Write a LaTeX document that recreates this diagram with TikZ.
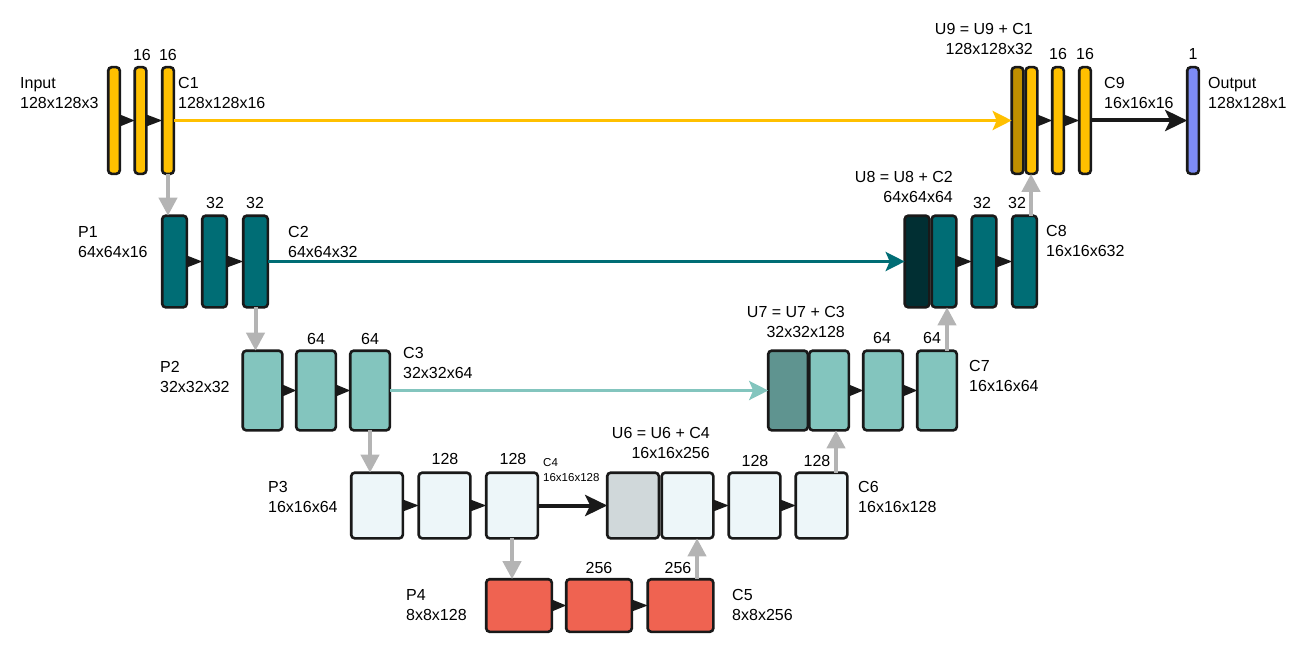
\documentclass[tikz,border=0pt]{standalone}
\usepackage{fontspec}
\setmainfont{Liberation Sans}
\usetikzlibrary{arrows.meta}
\definecolor{cyel}{HTML}{FFC000}
\definecolor{cgold}{HTML}{BF8F00}
\definecolor{cteal}{HTML}{006D75}
\definecolor{cdteal}{HTML}{012F33}
\definecolor{clteal}{HTML}{83C5BE}
\definecolor{cmteal}{HTML}{5F9490}
\definecolor{cpale}{HTML}{EDF6F9}
\definecolor{cgrey}{HTML}{D0D8DA}
\definecolor{cred}{HTML}{EF6351}
\definecolor{cblue}{HTML}{7D8CF6}
\definecolor{carr}{HTML}{B4B4B4}
\begin{document}
\begin{tikzpicture}[x=1pt,y=-1pt,
  blk/.style={draw=black!90, line width=2.6pt, rounded corners=3.5pt, inner sep=0pt, outer sep=0pt},
  r1/.style={blk, minimum width=11.6pt, minimum height=106.6pt},
  r2/.style={blk, minimum width=24.6pt, minimum height=91.6pt},
  r3/.style={blk, minimum width=39.6pt, minimum height=79.6pt},
  r4/.style={blk, minimum width=51.6pt, minimum height=65.6pt},
  r5/.style={blk, minimum width=65.6pt, minimum height=52.6pt},
  lbl/.style={inner sep=0pt, font=\fontsize{16}{20}\selectfont},
  lbll/.style={lbl, anchor=west, align=left},
  lblr/.style={lbl, anchor=east, align=right},
  smll/.style={inner sep=0pt, anchor=west, align=left, font=\fontsize{11.5}{15}\selectfont},
  grayarr/.style={draw=carr, line width=4pt, -{Triangle[length=18pt,width=18pt]}, carr},
  skip/.style={line width=3.4pt, -{Stealth[length=19pt,width=19pt,inset=4pt]}},
  blackarr/.style={draw=black!90, line width=4pt, -{Stealth[length=22pt,width=21pt,inset=5pt]}},
]
\useasboundingbox (0,0) rectangle (1303,650);
\newcommand\tri[2]{\fill[black!90] ([yshift=-6pt]#1.east) -- ([yshift=6pt]#1.east) -- (#2.west) -- cycle;}

% ---------- Row 1 ----------
\node[r1, fill=cyel] (r1a) at (114,120.5) {};
\node[r1, fill=cyel] (r1b) at (140.5,120.5) {};
\node[r1, fill=cyel] (r1c) at (168,120.5) {};
\node[r1, fill=cgold] (u9a) at (1017.5,120.5) {};
\node[r1, fill=cyel] (u9b) at (1031.5,120.5) {};
\node[r1, fill=cyel] (r1d) at (1058,120.5) {};
\node[r1, fill=cyel] (r1e) at (1085,120.5) {};
\node[r1, fill=cblue] (out) at (1193,120.5) {};

% ---------- Row 2 ----------
\node[r2, fill=cteal] (r2a) at (174.5,261.5) {};
\node[r2, fill=cteal] (r2b) at (214.5,261.5) {};
\node[r2, fill=cteal] (r2c) at (255.5,261.5) {};
\node[r2, fill=cdteal] (u8a) at (917,261.5) {};
\node[r2, fill=cteal] (u8b) at (944,261.5) {};
\node[r2, fill=cteal] (r2d) at (984,261.5) {};
\node[r2, fill=cteal] (r2e) at (1024.5,261.5) {};

% ---------- Row 3 ----------
\node[r3, fill=clteal] (r3a) at (262.5,390.5) {};
\node[r3, fill=clteal] (r3b) at (316,390.5) {};
\node[r3, fill=clteal] (r3c) at (370,390.5) {};
\node[r3, fill=cmteal] (u7a) at (788,390.5) {};
\node[r3, fill=clteal] (u7b) at (829,390.5) {};
\node[r3, fill=clteal] (r3d) at (883,390.5) {};
\node[r3, fill=clteal] (r3e) at (937,390.5) {};

% ---------- Row 4 ----------
\node[r4, fill=cpale] (r4a) at (377,505.5) {};
\node[r4, fill=cpale] (r4b) at (444.5,505.5) {};
\node[r4, fill=cpale] (r4c) at (512,505.5) {};
\node[r4, fill=cgrey] (u6a) at (633,505.5) {};
\node[r4, fill=cpale] (u6b) at (687.5,505.5) {};
\node[r4, fill=cpale] (r4d) at (754.5,505.5) {};
\node[r4, fill=cpale] (r4e) at (821.5,505.5) {};

% ---------- Row 5 ----------
\node[r5, fill=cred] (r5a) at (519,605.5) {};
\node[r5, fill=cred] (r5b) at (599,605.5) {};
\node[r5, fill=cred] (r5c) at (680.5,605.5) {};

% ---------- small triangles ----------
\tri{r1a}{r1b} \tri{r1b}{r1c} \tri{u9b}{r1d} \tri{r1d}{r1e}
\tri{r2a}{r2b} \tri{r2b}{r2c} \tri{u8b}{r2d} \tri{r2d}{r2e}
\tri{r3a}{r3b} \tri{r3b}{r3c} \tri{u7b}{r3d} \tri{r3d}{r3e}
\tri{r4a}{r4b} \tri{r4b}{r4c} \tri{u6b}{r4d} \tri{r4d}{r4e}
\tri{r5a}{r5b} \tri{r5b}{r5c}

% ---------- skip connections ----------
\draw[skip, draw=cyel, cyel] (r1c.east) -- (u9a.west);
\draw[skip, draw=cteal, cteal] (r2c.east) -- (u8a.west);
\draw[skip, draw=clteal, clteal] (r3c.east) -- (u7a.west);
\draw[blackarr] (r4c.east) -- (u6a.west);
\draw[blackarr] (r1e.east) -- (out.west);

% ---------- pooling / upsampling ----------
\draw[grayarr] (r1c.south) -- (r1c.south |- r2a.north);
\draw[grayarr] (r2c.south) -- (r2c.south |- r3a.north);
\draw[grayarr] (r3c.south) -- (r3c.south |- r4a.north);
\draw[grayarr] (r4c.south) -- (r4c.south |- r5a.north);
\draw[grayarr] ([xshift=16.5pt]r5c.north) -- ([xshift=16.5pt]r5c.north |- u6b.south);
\draw[grayarr] ([xshift=14.5pt]r4e.north) -- ([xshift=14.5pt]r4e.north |- u7b.south);
\draw[grayarr] ([xshift=10pt]r3e.north) -- ([xshift=10pt]r3e.north |- u8b.south);
\draw[grayarr] ([xshift=6.5pt]r2e.north) -- ([xshift=6.5pt]r2e.north |- u9b.south);

% ---------- labels ----------
\node[lbll] (tin) at (20,93) {Input\\128x128x3};
\node[lbll] (tc1) at (178,93) {C1\\128x128x16};
\node[lbll] (tp1) at (78,242) {P1\\64x64x16};
\node[lbll] (tc2) at (288,242) {C2\\64x64x32};
\node[lbll] (tp2) at (160,377) {P2\\32x32x32};
\node[lbll] (tc3) at (403,363) {C3\\32x32x64};
\node[lbll] (tp3) at (268,497) {P3\\16x16x64};
\node[smll] (tc4) at (543,470) {C4\\16x16x128};
\node[lbll] (tp4) at (406,605) {P4\\8x8x128};
\node[lbll] (tc5) at (732,605) {C5\\8x8x256};
\node[lbll] (tc6) at (858,497) {C6\\16x16x128};
\node[lblr] (tu6) at (710,443) {U6 = U6 + C4\\16x16x256};
\node[lbll] (tc7) at (969,376) {C7\\16x16x64};
\node[lblr] (tu7) at (845,322) {U7 = U7 + C3\\32x32x128};
\node[lbll] (tc8) at (1046,241) {C8\\16x16x632};
\node[lblr] (tu8) at (953,187) {U8 = U8 + C2\\64x64x64};
\node[lblr] (tu9) at (1033,39) {U9 = U9 + C1\\128x128x32};
\node[lbll] (tc9) at (1104,93) {C9\\16x16x16};
\node[lbll] (tout) at (1208,93) {Output\\128x128x1};

% filter counts
\node[lbl] (n1b) at (142,55) {16};
\node[lbl] (n1c) at (168,55) {16};
\node[lbl] (n1d) at (1058,54) {16};
\node[lbl] (n1e) at (1085,54) {16};
\node[lbl] (n1o) at (1193,54) {1};
\node[lbl] (n2b) at (215,203) {32};
\node[lbl] (n2c) at (255,203) {32};
\node[lbl] (n2d) at (982,203) {32};
\node[lbl] (n2e) at (1017,203) {32};
\node[lbl] (n3b) at (316,339) {64};
\node[lbl] (n3c) at (370,339) {64};
\node[lbl] (n3d) at (882,338) {64};
\node[lbl] (n3e) at (932,338) {64};
\node[lbl] (n4b) at (445,459) {128};
\node[lbl] (n4c) at (513,459) {128};
\node[lbl] (n4d) at (755,461) {128};
\node[lbl] (n4e) at (817,461) {128};
\node[lbl] (n5b) at (599,568) {256};
\node[lbl] (n5c) at (678,568) {256};
\end{tikzpicture}
\end{document}
